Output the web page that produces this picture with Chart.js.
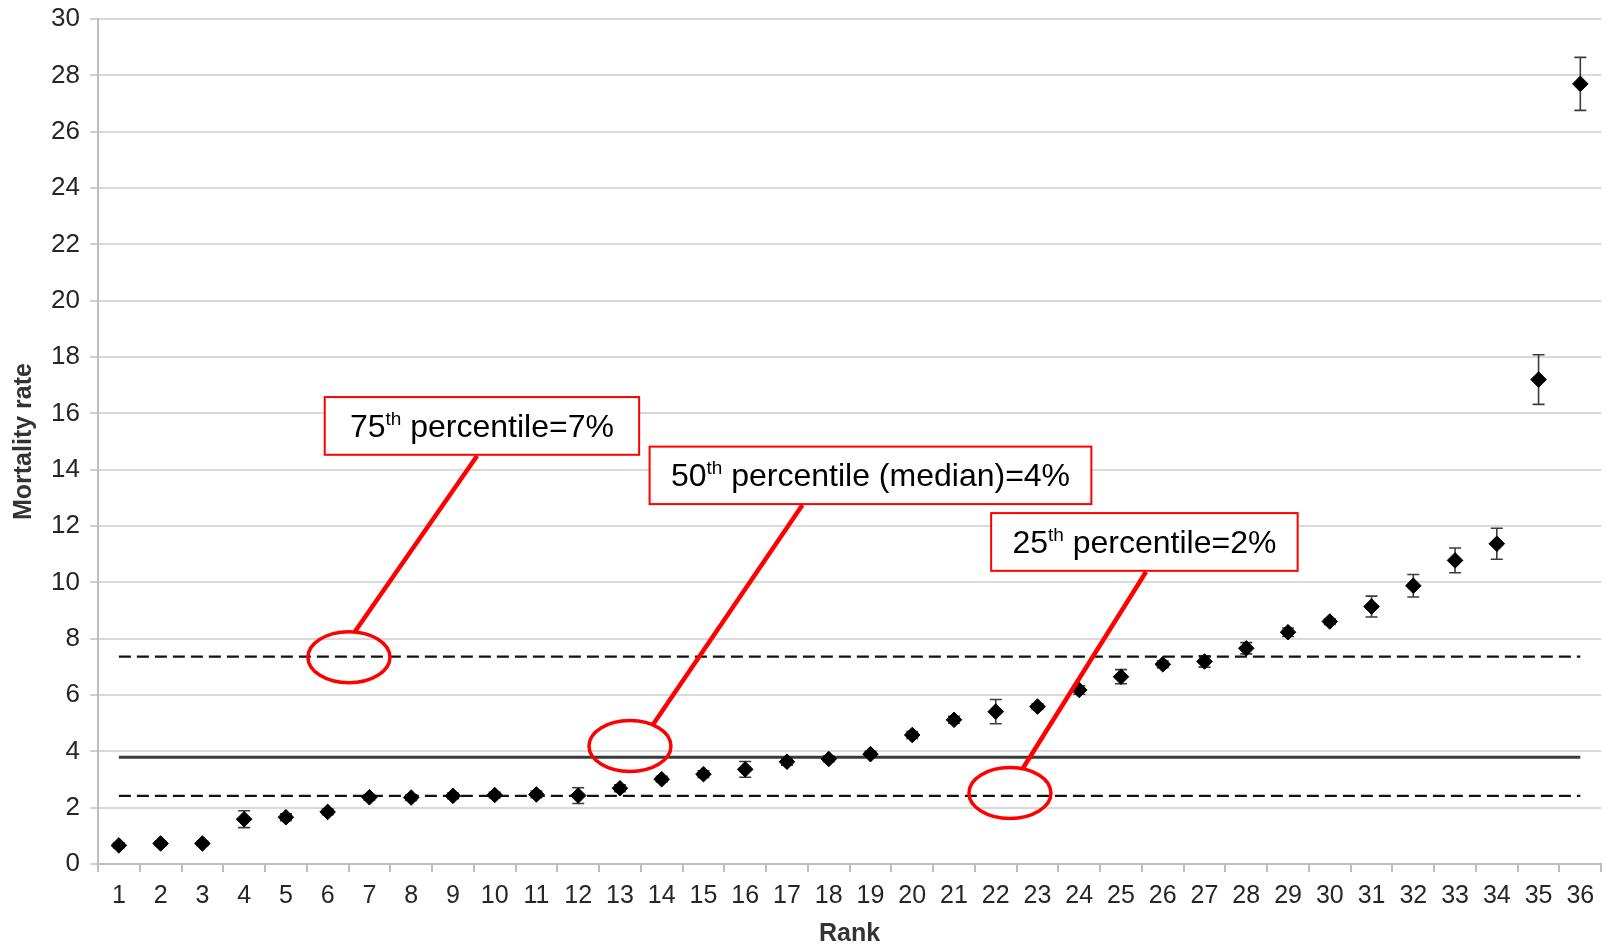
<!DOCTYPE html>
<html>
<head>
<meta charset="utf-8">
<script src="https://cdn.jsdelivr.net/npm/chart.js@4/dist/chart.umd.min.js"></script>
<style>
  html, body { margin: 0; padding: 0; background: #ffffff; }
  #wrap { width: 1610px; height: 947px; }
</style>
</head>
<body>
<div id="wrap"><canvas id="chart"></canvas></div>
<script>
// Hospital rank (x categories)
const ranks = ['1','2','3','4','5','6','7','8','9','10','11','12','13','14','15','16','17','18',
               '19','20','21','22','23','24','25','26','27','28','29','30','31','32','33','34','35','36'];

// Mortality rate (%) per rank
const mortality = [0.66, 0.73, 0.73, 1.59, 1.66, 1.85, 2.37, 2.36, 2.42, 2.45, 2.47, 2.43,
                   2.69, 3.01, 3.19, 3.36, 3.63, 3.73, 3.90, 4.58, 5.12, 5.41, 5.59, 6.18,
                   6.65, 7.09, 7.19, 7.66, 8.23, 8.61, 9.14, 9.88, 10.78, 11.37, 17.2, 27.7];

// Half-width of the error bar for each rank
const errHalf = [0.08, 0.08, 0.08, 0.30, 0.12, 0.10, 0.10, 0.10, 0.10, 0.10, 0.12, 0.28,
                 0.12, 0.10, 0.12, 0.28, 0.12, 0.10, 0.10, 0.12, 0.12, 0.43, 0.10, 0.15,
                 0.25, 0.12, 0.20, 0.20, 0.15, 0.10, 0.37, 0.40, 0.44, 0.55, 0.88, 0.94];

// Percentile reference levels
const p75 = 7.36;
const median = 3.79;
const p25 = 2.42;

// Y axis tick values
const yTicks = [0, 2, 4, 6, 8, 10, 12, 14, 16, 18, 20, 22, 24, 26, 28, 30];

// Callout annotations, placed in data units (rank, mortality rate)
const callouts = [
  { lead: '75', sup: 'th', rest: ' percentile=7%',
    box: [5.93, 13.46, 16.58, 14.53], anchorRank: 9.58, ring: [6.51, 7.34], angle: -82 },
  { lead: '50', sup: 'th', rest: ' percentile (median)=4%',
    box: [13.71, 24.29, 14.82, 12.78], anchorRank: 17.37, ring: [13.24, 4.19], angle: -56 },
  { lead: '25', sup: 'th', rest: ' percentile=2%',
    box: [21.89, 29.23, 12.46, 10.41], anchorRank: 25.6, ring: [22.34, 2.52], angle: -72 }
];

const FONT = "'Liberation Sans', Arial, Helvetica, sans-serif";
const flat = v => ranks.map(() => v);

const rankPx = (scale, r) => scale.getPixelForValue(r - 1);

// Vertical error bars with caps, drawn under the markers
const errorBars = {
  id: 'errorBars',
  beforeDatasetsDraw(chart) {
    const meta = chart.getDatasetMeta(0);
    const y = chart.scales.y;
    const ctx = chart.ctx;
    ctx.save();
    ctx.strokeStyle = '#3c3c3c';
    ctx.lineWidth = 1.6;
    meta.data.forEach((pt, i) => {
      const x = pt.x;
      const top = y.getPixelForValue(mortality[i] + errHalf[i]);
      const bot = y.getPixelForValue(mortality[i] - errHalf[i]);
      const cap = 6;
      ctx.beginPath();
      ctx.moveTo(x, top); ctx.lineTo(x, bot);
      ctx.moveTo(x - cap, top); ctx.lineTo(x + cap, top);
      ctx.moveTo(x - cap, bot); ctx.lineTo(x + cap, bot);
      ctx.stroke();
    });
    ctx.restore();
  }
};

// Red labelled boxes with leader lines and rings around the reference lines
const percentileCallouts = {
  id: 'percentileCallouts',
  afterDatasetsDraw(chart) {
    const { ctx, scales: { x, y } } = chart;
    ctx.save();
    callouts.forEach(c => {
      const bx1 = rankPx(x, c.box[0]), bx2 = rankPx(x, c.box[1]);
      const by1 = y.getPixelForValue(c.box[2]), by2 = y.getPixelForValue(c.box[3]);
      const cx = rankPx(x, c.ring[0]), cy = y.getPixelForValue(c.ring[1]);
      const rx = 41, ry = 25.5;
      const a = c.angle * Math.PI / 180;
      const ex = cx + rx * Math.cos(a), ey = cy + ry * Math.sin(a);
      const sx = rankPx(x, c.anchorRank);

      // leader line
      ctx.strokeStyle = '#ff0000';
      ctx.lineWidth = 4.5;
      ctx.lineCap = 'butt';
      ctx.beginPath();
      ctx.moveTo(sx, by2 + 1);
      ctx.lineTo(ex, ey);
      ctx.stroke();

      // ring
      ctx.lineWidth = 3.5;
      ctx.beginPath();
      ctx.ellipse(cx, cy, rx, ry, 0, 0, Math.PI * 2);
      ctx.stroke();

      // box
      ctx.fillStyle = '#ffffff';
      ctx.fillRect(bx1, by1, bx2 - bx1, by2 - by1);
      ctx.lineWidth = 2;
      ctx.strokeRect(bx1, by1, bx2 - bx1, by2 - by1);

      // label with superscript
      const big = '32px ' + FONT, small = '19px ' + FONT;
      ctx.font = big;
      const w1 = ctx.measureText(c.lead).width;
      const w3 = ctx.measureText(c.rest).width;
      ctx.font = small;
      const w2 = ctx.measureText(c.sup).width;
      const total = w1 + w2 + w3;
      let tx = (bx1 + bx2) / 2 - total / 2;
      const base = (by1 + by2) / 2 + 11;
      ctx.fillStyle = '#000000';
      ctx.textBaseline = 'alphabetic';
      ctx.textAlign = 'left';
      ctx.font = big;
      ctx.fillText(c.lead, tx, base);
      tx += w1;
      ctx.font = small;
      ctx.fillText(c.sup, tx, base - 12);
      tx += w2;
      ctx.font = big;
      ctx.fillText(c.rest, tx, base);
    });
    ctx.restore();
  }
};

new Chart(document.getElementById('chart'), {
  type: 'line',
  data: {
    labels: ranks,
    datasets: [
      {
        label: 'Mortality rate',
        data: mortality,
        showLine: false,
        pointStyle: 'rectRot',
        pointRadius: 7.8,
        pointBackgroundColor: '#000000',
        pointBorderColor: '#000000',
        pointBorderWidth: 1
      },
      {
        label: '75th percentile',
        data: flat(p75),
        borderColor: '#111111',
        borderWidth: 2.2,
        borderDash: [12, 6],
        pointRadius: 0,
        fill: false
      },
      {
        label: 'Median',
        data: flat(median),
        borderColor: '#3a3a3a',
        borderWidth: 3,
        pointRadius: 0,
        fill: false
      },
      {
        label: '25th percentile',
        data: flat(p25),
        borderColor: '#111111',
        borderWidth: 2.2,
        borderDash: [12, 6],
        pointRadius: 0,
        fill: false
      }
    ]
  },
  options: {
    responsive: true,
    maintainAspectRatio: false,
    animation: false,
    events: [],
    layout: { padding: { top: 19, right: 7, left: 0, bottom: 0 } },
    plugins: {
      legend: { display: false },
      tooltip: { enabled: false }
    },
    scales: {
      x: {
        type: 'category',
        offset: true,
        grid: {
          display: true,
          offset: true,
          drawOnChartArea: false,
          drawTicks: true,
          tickLength: 8,
          color: '#bdbdbd',
          lineWidth: 2
        },
        border: { display: true, color: '#bdbdbd', width: 2 },
        ticks: {
          color: '#262626',
          font: { family: FONT, size: 25, lineHeight: 1.92 },
          padding: 0,
          maxRotation: 0,
          autoSkip: false
        },
        title: {
          display: true,
          text: 'Rank',
          color: '#333333',
          font: { family: FONT, size: 25, weight: 'bold', lineHeight: 1 },
          padding: { top: 4, bottom: 0 }
        },
        afterFit(s) {
          s.height = 83;
          s.paddingLeft = 0;
          s.paddingRight = 0;
        }
      },
      y: {
        min: 0,
        max: 30,
        afterBuildTicks(s) { s.ticks = yTicks.map(v => ({ value: v })); },
        grid: {
          color: '#d9d9d9',
          lineWidth: 2,
          tickLength: 8,
          tickColor: '#cfcfcf'
        },
        border: { display: true, color: '#bdbdbd', width: 2 },
        ticks: {
          color: '#262626',
          font: { family: FONT, size: 26, lineHeight: 0.7 },
          padding: 10
        },
        title: {
          display: true,
          text: 'Mortality rate',
          color: '#333333',
          font: { family: FONT, size: 25, weight: 'bold', lineHeight: 1 },
          padding: { top: 12, bottom: 0 }
        },
        afterFit(s) { s.width = 98; }
      }
    }
  },
  plugins: [errorBars, percentileCallouts]
});
</script>
</body>
</html>
